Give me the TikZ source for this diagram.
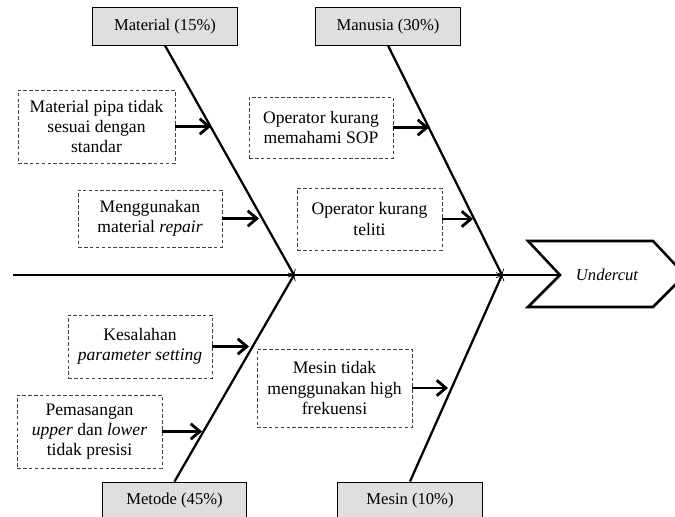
\documentclass[tikz,border=0pt]{standalone}
\usepackage{fontspec}
\setmainfont{Liberation Serif}
\usetikzlibrary{arrows.meta}

\begin{document}
\begin{tikzpicture}[
  x=0.025cm, y=-0.025cm,
  catbox/.style={draw=black, fill=gray!25, line width=0.7pt, minimum width=3.6cm, minimum height=0.925cm, inner sep=1pt, font={\fontsize{11.8}{14}\selectfont}},
  causebox/.style={draw=black!75, fill=white, dash pattern=on 2.6pt off 1.6pt, line width=0.6pt, align=center, inner sep=2pt, font={\fontsize{12.5}{14.4}\selectfont}},
  bone/.style={line width=1.6pt, -{Straight Barb[length=3pt,width=6pt,line width=0.5pt]}},
  causearrow/.style={line width=2pt, -{Straight Barb[length=6.5pt,width=11pt]}},
  headshape/.style={line width=1.8pt, line join=miter}
]
\useasboundingbox (0,0) rectangle (675,517);
\clip (0,0) rectangle (675,517);
% categories
\node[catbox] (material) at (165,26.5) {Material (15\%)};
\node[catbox] (manusia) at (388,26.5) {Manusia (30\%)};
\node[catbox] (metode) at (174.5,500.5) {Metode (45\%)};
\node[catbox] (mesin) at (410,500.5) {Mesin (10\%)};
% spine and head
\coordinate (tail) at (13,275);
\coordinate (notch) at (560,275);
\coordinate (j1) at (294,275);
\coordinate (j2) at (502,275);
\draw[headshape] (528,241) -- (653,241) -- (685,275) -- (653,307) -- (528,307) -- (notch) -- cycle;
\node[font={\fontsize{11.8}{14}\selectfont\itshape}] (undercut) at (607,275) {Undercut};
\draw[bone] (tail) -- (notch);
\draw[bone] (material.south) -- (j1);
\draw[bone] (metode.north) -- (j1);
\draw[bone] (manusia.south) -- (j2);
\draw[bone] (mesin.north) -- (j2);
% causes
\node[causebox, minimum width=3.925cm, minimum height=1.825cm] (c1) at (96.5,126.5) {Material pipa tidak\\sesuai dengan\\standar};
\node[causebox, minimum width=3.6cm, minimum height=1.425cm] (c2) at (150,218.5) {Menggunakan\\material \textit{repair}};
\node[causebox, minimum width=3.6cm, minimum height=1.525cm] (c3) at (321,127.5) {Operator kurang\\memahami SOP};
\node[causebox, minimum width=3.625cm, minimum height=1.55cm] (c4) at (369.5,219) {Operator kurang\\teliti};
\node[causebox, minimum width=3.6cm, minimum height=1.575cm] (c5) at (140,346.5) {Kesalahan\\\textit{parameter setting}};
\node[causebox, minimum width=3.625cm, minimum height=1.825cm] (c6) at (89.5,431.5) {Pemasangan\\\textit{upper} dan \textit{lower}\\tidak presisi};
\node[causebox, minimum width=3.875cm, minimum height=1.95cm] (c7) at (334.5,388) {Mesin tidak\\menggunakan high\\frekuensi};
\coordinate (t1) at (211,126.5);
\coordinate (t2) at (259,218.5);
\coordinate (t3) at (429,127.5);
\coordinate (t4) at (473,219);
\coordinate (t5) at (249,346.5);
\coordinate (t6) at (202,431.5);
\coordinate (t7) at (448,388);
\draw[causearrow] (c1.east) -- (t1);
\draw[causearrow] (c2.east) -- (t2);
\draw[causearrow] (c3.east) -- (t3);
\draw[causearrow] (c4.east) -- (t4);
\draw[causearrow] (c5.east) -- (t5);
\draw[causearrow] (c6.east) -- (t6);
\draw[causearrow] (c7.east) -- (t7);
\end{tikzpicture}
\end{document}
